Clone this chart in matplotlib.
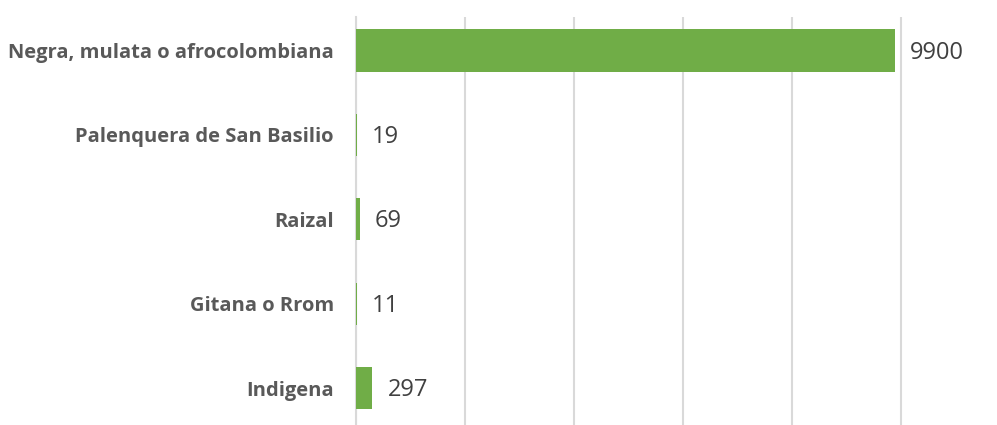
import numpy as np
import matplotlib.pyplot as plt

categories = [
    "Negra, mulata o afrocolombiana",
    "Palenquera de San Basilio",
    "Raizal",
    "Gitana o Rrom",
    "Indigena",
]
values = [9900, 19, 69, 11, 297]
x_ticks = [0, 2000, 4000, 6000, 8000, 10000]

bar_color = "#70AD47"
grid_color = "#D9D9D9"

W, H = 997, 425
fig = plt.figure(figsize=(W / 100, H / 100), dpi=100)

left_px, zero_px, max_px = 356, 356, 900.5
xmax = 10200
right_px = zero_px + (max_px - zero_px) * xmax / 10000
top_px, bottom_px = 17, 425
ax = fig.add_axes([left_px / W, 1 - bottom_px / H, (right_px - left_px) / W, (bottom_px - top_px) / H])

y = np.arange(len(categories))
ax.barh(y, values, height=0.5, color=bar_color, zorder=3)

ax.set_xlim(0, xmax)
ax.set_ylim(4.438, -0.397)
ax.set_xticks(x_ticks)
ax.set_yticks(y)
ax.set_yticklabels(categories, fontfamily="Open Sans", fontweight="bold",
                   fontsize=14.5, color="#595959")
ax.tick_params(axis="y", length=0, pad=16)
ax.tick_params(axis="x", length=0, labelbottom=False)
ax.grid(axis="x", color=grid_color, linewidth=1.5, zorder=0)
for s in ["top", "right", "bottom"]:
    ax.spines[s].set_visible(False)
ax.spines["left"].set_color(grid_color)
ax.spines["left"].set_linewidth(1.5)

for yi, v in zip(y, values):
    ax.annotate(str(v), (v, yi), xytext=(11, -1.5), textcoords="offset points",
                va="center", ha="left", fontsize=17, fontfamily="Open Sans",
                color="#404040")

fig.savefig("out.png", dpi=100)
